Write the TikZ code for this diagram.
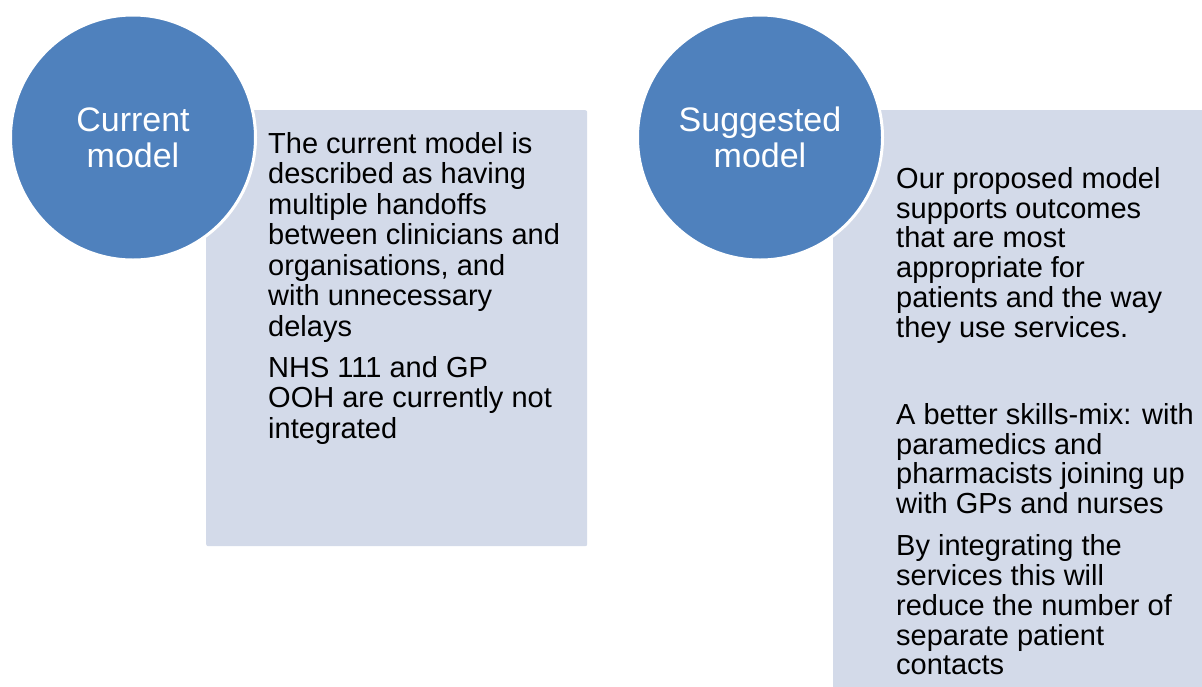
\documentclass[tikz,border=0pt]{standalone}
\usepackage{fontspec}
\setmainfont{Liberation Sans}
\usetikzlibrary{positioning}

\definecolor{circleblue}{HTML}{4F81BD}
\definecolor{boxfill}{HTML}{D3DAE9}

\begin{document}
\begin{tikzpicture}[
    x=1pt, y=-1pt,
    modelcircle/.style={circle, fill=circleblue, draw=white, line width=3pt, minimum size=245pt, inner sep=0pt, text=white, align=center, font=\fontsize{34}{36}\selectfont},
    infobox/.style={rectangle, rounded corners=2pt, fill=boxfill, inner sep=0pt, anchor=north west},
    infotext/.style={inner sep=0pt, align=left, font=\fontsize{29}{30.5}\selectfont}
]

% Frame
\clip (0,0) rectangle (1202,686);

% Boxes
\node[infobox, minimum width=381pt, minimum height=436pt] (currentbox) at (206,110) {};
\node[infobox, minimum width=390pt, minimum height=600pt] (suggestedbox) at (833,110) {};

% Circles
\node[modelcircle] (current) at (133,137.5) {Current\\model};
\node[modelcircle] (suggested) at (760,137.5) {Suggested\\model};

% Texts
\node[infotext, below right=22pt and 62pt of currentbox.north west] (currenttext) {The current model is\\described as having\\multiple handoffs\\between clinicians and\\organisations, and\\with unnecessary\\delays\\[10.5pt]NHS 111 and GP\\OOH are currently not\\integrated};
\node[infotext, font=\fontsize{29}{29.8}\selectfont, below right=57pt and 63pt of suggestedbox.north west] (suggestedtext) {Our proposed model\\supports outcomes\\that are most\\appropriate for\\patients and the way\\they use services.\\[57.2pt]A better skills-mix: with\\paramedics and\\pharmacists joining up\\with GPs and nurses\\[12.2pt]By integrating the\\services this will\\reduce the number of\\separate patient\\contacts};

\end{tikzpicture}
\end{document}
